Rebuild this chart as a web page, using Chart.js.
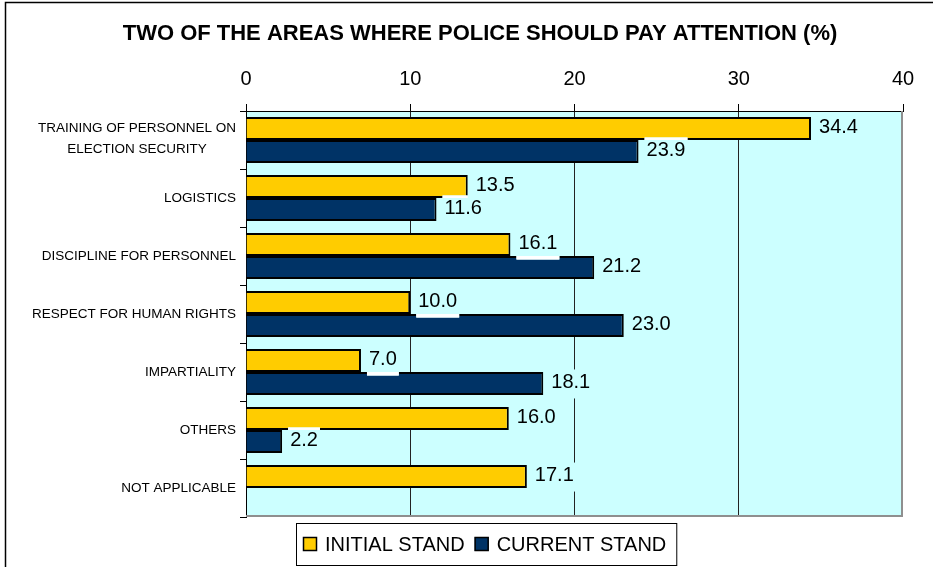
<!DOCTYPE html>
<html>
<head>
<meta charset="utf-8">
<script src="https://cdn.jsdelivr.net/npm/chart.js@4.4.1/dist/chart.umd.min.js"></script>
<style>
  html, body { margin: 0; padding: 0; background: #fff; }
  #wrap { width: 933px; height: 567px; }
</style>
</head>
<body>
<div id="wrap"><canvas id="chart" width="933" height="567"></canvas></div>
<script>
const categories = [
  ['TRAINING OF PERSONNEL ON', 'ELECTION SECURITY'],
  'LOGISTICS',
  'DISCIPLINE FOR PERSONNEL',
  'RESPECT FOR HUMAN RIGHTS',
  'IMPARTIALITY',
  'OTHERS',
  'NOT APPLICABLE'
]
const initialStand = [34.4, 13.5, 16.1, 10.0, 7.0, 16.0, 17.1]
const currentStand = [23.9, 11.6, 21.2, 23.0, 18.1, 2.2, null]
const xTicks = [0, 10, 20, 30, 40]

const FONT = '"Liberation Sans", Arial, sans-serif'
const PLOT_BG = '#ccffff'

// white page, outer frame and cyan plot area
const backdrop = {
  id: 'backdrop',
  beforeDraw(chart) {
    const { ctx, chartArea: a } = chart
    ctx.save()
    ctx.fillStyle = '#fff'
    ctx.fillRect(0, 0, chart.width, chart.height)
    ctx.strokeStyle = '#000'
    ctx.lineWidth = 1.5
    ctx.strokeRect(5.5, 2.5, chart.width + 20, chart.height + 20)
    ctx.fillStyle = PLOT_BG
    ctx.fillRect(a.left, a.top, a.right - a.left, a.bottom - a.top)
    ctx.restore()
  },
  beforeDatasetsDraw(chart) {
    // grey edge on the right and bottom of the plot
    const { ctx, chartArea: a } = chart
    ctx.save()
    ctx.strokeStyle = '#8f8f8f'
    ctx.lineWidth = 2
    ctx.beginPath()
    ctx.moveTo(a.right - 1, a.top)
    ctx.lineTo(a.right - 1, a.bottom - 1)
    ctx.lineTo(a.left, a.bottom - 1)
    ctx.stroke()
    ctx.restore()
  }
}

// value labels just past the end of each bar; the label box is plot-coloured
// where it sits on the background and white where it runs over a bar
const barLabels = {
  id: 'barLabels',
  afterDatasetsDraw(chart) {
    const { ctx } = chart
    const bars = []
    chart.data.datasets.forEach((ds, i) => {
      chart.getDatasetMeta(i).data.forEach((bar, j) => {
        if (ds.data[j] === null) return
        const r = bar.getProps(['x', 'y', 'base', 'height'], true)
        bars.push({ l: r.base, r: r.x, t: r.y - r.height / 2, b: r.y + r.height / 2, el: bar, v: ds.data[j] })
      })
    })
    ctx.save()
    ctx.font = '20px ' + FONT
    ctx.textBaseline = 'middle'
    ctx.textAlign = 'left'
    bars.forEach(bar => {
      const txt = bar.v.toFixed(1)
      const w = ctx.measureText(txt).width
      const x = bar.r + 8
      const y = (bar.t + bar.b) / 2
      const box = { l: x - 2, r: x + w + 2, t: y - 14, b: y + 15 }
      ctx.fillStyle = PLOT_BG
      ctx.fillRect(box.l, box.t, box.r - box.l, box.b - box.t)
      ctx.fillStyle = '#fff'
      bars.forEach(o => {
        const l = Math.max(box.l, o.l), r = Math.min(box.r, o.r)
        const t = Math.max(box.t, o.t), b = Math.min(box.b, o.b)
        if (r > l && b > t) ctx.fillRect(l, t, r - l, b - t)
      })
      ctx.fillStyle = '#000'
      ctx.fillText(txt, x, y - 1)
    })
    ctx.restore()
  }
}

// category names, right aligned; wrapped names are centred on each other
const categoryLabels = {
  id: 'categoryLabels',
  afterDraw(chart) {
    const { ctx } = chart
    const y = chart.scales.y
    ctx.save()
    ctx.font = '13.5px ' + FONT
    ctx.fillStyle = '#000'
    ctx.textBaseline = 'middle'
    ctx.textAlign = 'center'
    const right = y.right - 10
    chart.data.labels.forEach((lab, i) => {
      const lines = Array.isArray(lab) ? lab : [lab]
      const maxW = Math.max(...lines.map(l => ctx.measureText(l).width))
      const cx = right - maxW / 2
      const cy = y.getPixelForValue(i)
      const lh = 21
      lines.forEach((l, k) => {
        ctx.fillText(l, cx, cy + (k - (lines.length - 1) / 2) * lh - (lines.length > 1 ? 1.5 : 0))
      })
    })
    ctx.restore()
  }
}

// boxed legend under the plot
const boxedLegend = {
  id: 'boxedLegend',
  afterDraw(chart) {
    const { ctx } = chart
    ctx.save()
    ctx.font = '20px ' + FONT
    ctx.textBaseline = 'middle'
    ctx.textAlign = 'left'
    const top = 523, h = 42, cy = top + h / 2
    let x = 303
    const left = x - 7
    chart.data.datasets.forEach(ds => {
      ctx.fillStyle = ds.backgroundColor
      ctx.fillRect(x, cy - 7, 14, 14)
      ctx.strokeStyle = '#000'
      ctx.lineWidth = 1.5
      ctx.strokeRect(x + 0.5, cy - 6.5, 13, 13)
      x += 22
      ctx.fillStyle = '#000'
      ctx.fillText(ds.label, x, cy + 1)
      x += ctx.measureText(ds.label).width + 10
    })
    ctx.strokeStyle = '#000'
    ctx.lineWidth = 1
    ctx.strokeRect(left + 0.5, top + 0.5, x - left, h)
    ctx.restore()
  }
}

new Chart(document.getElementById('chart'), {
  type: 'bar',
  data: {
    labels: categories,
    datasets: [
      { label: 'INITIAL STAND', data: initialStand, backgroundColor: '#ffcc00', borderColor: '#000', borderWidth: 2 },
      { label: 'CURRENT STAND', data: currentStand, backgroundColor: '#003366', borderColor: '#000', borderWidth: 2 }
    ]
  },
  options: {
    indexAxis: 'y',
    responsive: false,
    animation: false,
    devicePixelRatio: 1,
    layout: { padding: { left: 57, right: 30, top: 0, bottom: 50 } },
    datasets: { bar: { categoryPercentage: 0.79, barPercentage: 1.0 } },
    plugins: {
      legend: { display: false },
      tooltip: { enabled: false },
      title: {
        display: true,
        text: 'TWO OF THE AREAS WHERE POLICE SHOULD PAY ATTENTION (%)',
        color: '#000',
        font: { family: FONT, size: 22, weight: 'bold' },
        padding: { top: 21, bottom: 0 }
      }
    },
    scales: {
      x: {
        position: 'top',
        min: 0,
        max: 40,
        afterBuildTicks: s => { s.ticks = xTicks.map(v => ({ value: v })) },
        afterFit: s => { s.height = 63.6 },
        ticks: { color: '#000', padding: 13, font: { family: FONT, size: 20 } },
        grid: {
          color: c => (c.tick && c.tick.value === 40 ? 'rgba(0,0,0,0)' : '#222'),
          tickColor: '#000',
          tickLength: 7,
          lineWidth: 1
        },
        border: { color: '#000', width: 1 }
      },
      y: {
        afterFit: s => { s.width = 189 },
        ticks: { display: false },
        grid: { drawOnChartArea: false, tickLength: 6, tickColor: '#000', offset: true },
        border: { color: '#000', width: 1 }
      }
    }
  },
  plugins: [backdrop, barLabels, categoryLabels, boxedLegend]
})
</script>
</body>
</html>
